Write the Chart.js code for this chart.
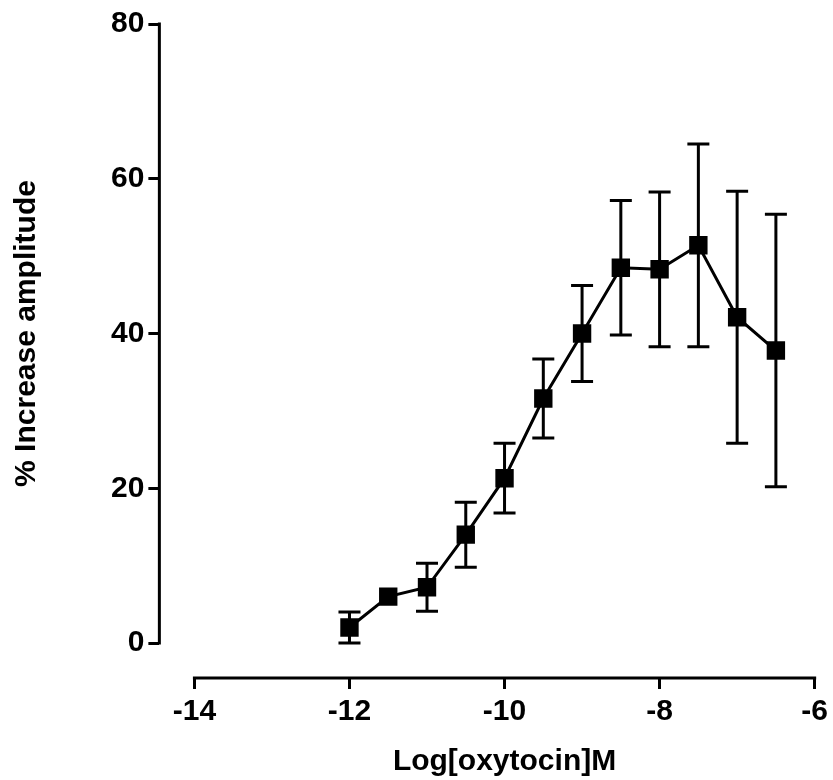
<!DOCTYPE html>
<html>
<head>
<meta charset="utf-8">
<script src="https://cdn.jsdelivr.net/npm/chart.js@4.4.0/dist/chart.umd.min.js"></script>
<style>
  html, body { margin: 0; padding: 0; background: #fff; }
  #wrap { width: 833px; height: 780px; }
</style>
</head>
<body>
<div id="wrap"><canvas id="doseChart"></canvas></div>
<script>
// log concentration of oxytocin (M)
const logDose = [-12, -11.5, -11, -10.5, -10, -9.5, -9, -8.5, -8, -7.5, -7, -6.5];
// mean % increase in amplitude
const meanResp = [2.0, 6.0, 7.2, 14.0, 21.3, 31.6, 40.0, 48.5, 48.3, 51.4, 42.1, 37.8];
// error (SEM) half-widths
const errResp = [2.0, 0.6, 3.1, 4.2, 4.5, 5.1, 6.2, 8.7, 10.0, 13.1, 16.3, 17.6];
const xTicks = [-14, -12, -10, -8, -6];
const yTicks = [0, 20, 40, 60, 80];

const FONT = '"Liberation Sans", Arial, sans-serif';

const axesAndErrors = {
  id: 'axesAndErrors',
  beforeDatasetsDraw(chart) {
    const c = chart.ctx, xs = chart.scales.x, ys = chart.scales.y;
    c.save();
    c.strokeStyle = '#000';
    c.lineWidth = 3;
    logDose.forEach((d, i) => {
      const px = xs.getPixelForValue(d);
      const top = ys.getPixelForValue(meanResp[i] + errResp[i]);
      const bot = ys.getPixelForValue(meanResp[i] - errResp[i]);
      // bars shorter than the symbol are hidden behind it
      if (bot - top < 20) return;
      c.beginPath();
      c.moveTo(px, top); c.lineTo(px, bot);
      c.moveTo(px - 11, top); c.lineTo(px + 11, top);
      c.moveTo(px - 11, bot); c.lineTo(px + 11, bot);
      c.stroke();
    });
    c.restore();
  },
  afterDraw(chart) {
    const c = chart.ctx, xs = chart.scales.x, ys = chart.scales.y;
    const area = chart.chartArea;
    c.save();
    c.strokeStyle = '#000';
    c.lineWidth = 3;
    c.lineCap = 'square';
    // y axis line
    c.beginPath();
    c.moveTo(area.left, ys.getPixelForValue(yTicks[yTicks.length - 1]));
    c.lineTo(area.left, ys.getPixelForValue(yTicks[0]));
    c.stroke();
    // x axis line
    c.beginPath();
    c.moveTo(xs.getPixelForValue(xTicks[0]), area.bottom);
    c.lineTo(xs.getPixelForValue(xTicks[xTicks.length - 1]), area.bottom);
    c.stroke();

    // axis titles
    c.fillStyle = '#000';
    c.font = 'bold 30px ' + FONT;
    c.textAlign = 'center';
    c.textBaseline = 'alphabetic';
    const xMid = (xs.getPixelForValue(xTicks[0]) + xs.getPixelForValue(xTicks[xTicks.length - 1])) / 2;
    c.fillText('Log[oxytocin]M', xMid, 770);
    const yMid = (ys.getPixelForValue(yTicks[0]) + ys.getPixelForValue(yTicks[yTicks.length - 1])) / 2;
    c.translate(35, yMid);
    c.rotate(-Math.PI / 2);
    c.fillText('% Increase amplitude', 0, 0);
    c.restore();
  }
};

new Chart(document.getElementById('doseChart'), {
  type: 'line',
  data: {
    datasets: [{
      data: logDose.map((d, i) => ({ x: d, y: meanResp[i] })),
      borderColor: '#000',
      borderWidth: 3,
      backgroundColor: '#000',
      pointStyle: 'rect',
      pointRadius: 13,
      pointHoverRadius: 13,
      pointBackgroundColor: '#000',
      pointBorderColor: '#000',
      pointBorderWidth: 0,
      tension: 0,
      fill: false
    }]
  },
  options: {
    responsive: true,
    maintainAspectRatio: false,
    animation: false,
    events: [],
    layout: { padding: { left: 107, right: 17, top: 24, bottom: 45 } },
    plugins: { legend: { display: false }, tooltip: { enabled: false } },
    scales: {
      x: {
        type: 'linear',
        min: -14.452,
        max: -6,
        afterBuildTicks: s => { s.ticks = xTicks.map(v => ({ value: v })); },
        grid: { drawOnChartArea: false, tickLength: 11, tickWidth: 3, tickColor: '#000' },
        border: { display: false },
        ticks: { color: '#000', padding: 5, font: { family: FONT, size: 30, weight: 'bold' }, maxRotation: 0 }
      },
      y: {
        min: -4.523,
        max: 80,
        afterBuildTicks: s => { s.ticks = yTicks.map(v => ({ value: v })); },
        grid: { drawOnChartArea: false, tickLength: 11, tickWidth: 3, tickColor: '#000' },
        border: { display: false },
        ticks: { color: '#000', padding: 4, font: { family: FONT, size: 30, weight: 'bold' } }
      }
    }
  },
  plugins: [axesAndErrors]
});
</script>
</body>
</html>
